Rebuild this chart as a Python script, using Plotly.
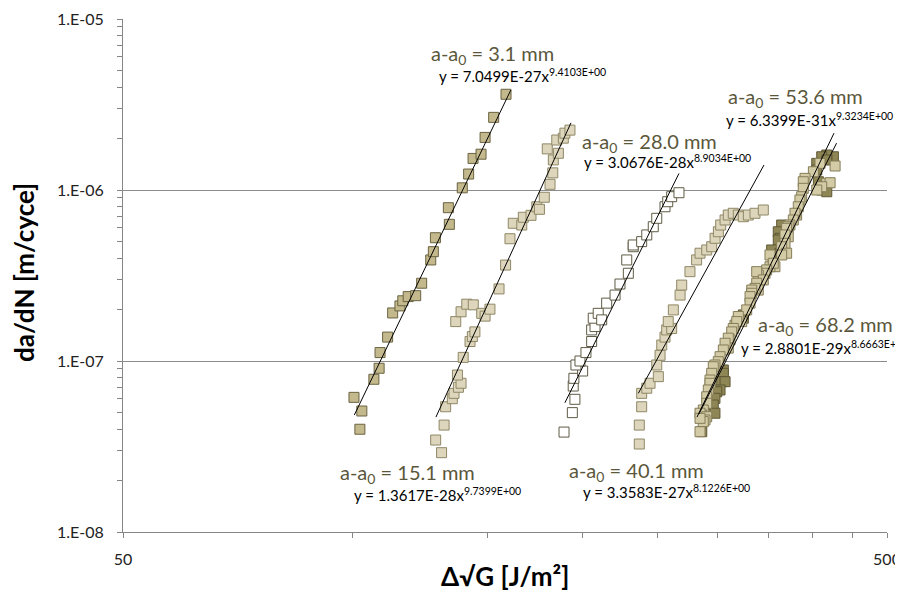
import plotly.graph_objects as go

# ---------------- data ----------------
s31_x = [102.1, 102.7, 100.3, 106.5, 108.2, 108.5, 111.0, 112.7, 115.2, 116.2, 118.1, 120.8, 123.0,
         126.4, 127.4, 128.2, 133.7, 133.3, 139.0, 141.7, 143.6, 147.1, 148.9, 152.8, 158.6]
s31_y = [3.99e-8, 5.10e-8, 6.13e-8, 7.82e-8, 9.07e-8, 1.12e-7, 1.38e-7, 1.91e-7, 2.10e-7, 2.25e-7,
         2.38e-7, 2.41e-7, 2.85e-7, 3.90e-7, 4.36e-7, 5.26e-7, 6.30e-7, 7.88e-7, 1.03e-6, 1.24e-6,
         1.53e-6, 1.62e-6, 2.03e-6, 2.66e-6, 3.63e-6]

s151_x = [130.6, 128.3, 131.6, 132.2, 134.9, 135.6, 137.4, 138.5, 137.0, 139.4, 142.3, 143.3, 144.4,
          136.3, 138.5, 140.9, 143.7, 147.4, 148.9, 151.1, 155.3, 158.4, 160.5, 162.1, 166.3, 167.1,
          171.0, 174.0, 175.4, 178.0, 181.1, 182.6, 182.9, 185.7, 179.6, 184.8, 188.5, 189.4, 192.3]
s151_y = [2.91e-8, 3.45e-8, 4.22e-8, 5.40e-8, 6.02e-8, 6.47e-8, 7.02e-8, 7.41e-8, 8.28e-8, 1.05e-7,
          1.30e-7, 1.39e-7, 1.48e-7, 1.70e-7, 1.94e-7, 2.15e-7, 2.13e-7, 1.90e-7, 1.83e-7, 2.01e-7,
          2.64e-7, 3.64e-7, 5.19e-7, 6.39e-7, 6.24e-7, 6.93e-7, 7.11e-7, 7.98e-7, 7.71e-7, 9.07e-7,
          1.08e-6, 1.26e-6, 1.50e-6, 1.64e-6, 1.74e-6, 1.96e-6, 2.01e-6, 2.15e-6, 2.24e-6]

s280_x = [188.9, 193.7, 195.2, 194.2, 194.6, 199.8, 195.8, 198.2, 201.8, 205.3, 205.3, 207.4, 206.3,
          209.4, 211.6, 214.8, 220.3, 223.6, 229.3, 228.2, 232.7, 232.7, 238.7, 242.4, 247.2, 249.8,
          256.1, 258.2, 261.3, 267.1]
s280_y = [3.84e-8, 4.99e-8, 5.97e-8, 7.14e-8, 7.92e-8, 8.74e-8, 9.48e-8, 1.00e-7, 1.12e-7, 1.30e-7,
          1.52e-7, 1.59e-7, 1.78e-7, 1.90e-7, 1.74e-7, 2.18e-7, 2.43e-7, 2.82e-7, 3.26e-7, 3.90e-7,
          4.66e-7, 4.77e-7, 4.99e-7, 5.46e-7, 6.10e-7, 6.83e-7, 7.98e-7, 8.54e-7, 9.14e-7, 9.64e-7]

s401_x = [237.0, 237.0, 238.7, 238.7, 242.4, 244.8, 251.0, 249.8, 252.3, 253.6, 256.1, 257.4, 261.3,
          258.6, 262.6, 268.0, 269.3, 276.1, 281.7, 284.6, 290.4, 294.8, 297.8, 300.8, 302.9, 306.9,
          309.9, 314.6, 319.4, 324.3, 329.2, 335.9, 344.4]
s401_y = [3.27e-8, 4.22e-8, 5.40e-8, 6.47e-8, 6.93e-8, 7.41e-8, 8.10e-8, 9.48e-8, 1.08e-7, 1.24e-7,
          1.38e-7, 1.52e-7, 1.55e-7, 1.70e-7, 1.99e-7, 2.43e-7, 2.78e-7, 3.33e-7, 3.90e-7, 4.27e-7,
          4.46e-7, 4.66e-7, 5.22e-7, 5.70e-7, 6.24e-7, 6.68e-7, 7.14e-7, 7.31e-7, 7.14e-7, 6.98e-7,
          7.14e-7, 7.31e-7, 7.64e-7]

s536_x = [425.4, 417.0, 410.7, 404.6, 404.6, 417.0, 406.6, 410.7, 417.0, 364.0, 360.3, 362.2, 360.3,
          353.2, 354.9, 362.2, 324.3, 319.4, 324.3, 305.3, 305.3, 303.8, 306.9, 302.3, 299.3, 297.7,
          296.2, 297.7, 286.1]
s536_y = [1.565e-6, 1.602e-6, 1.565e-6, 1.432e-6, 1.309e-6, 1.498e-6, 1.118e-6, 1.000e-6, 9.77e-7,
          6.24e-7, 5.70e-7, 5.22e-7, 5.10e-7, 4.46e-7, 3.99e-7, 4.27e-7, 1.86e-7, 1.74e-7, 1.78e-7,
          8.86e-8, 8.47e-8, 7.57e-8, 7.57e-8, 6.77e-8, 6.61e-8, 6.05e-8, 5.53e-8, 4.95e-8, 3.86e-8]

s682_x = [427.6, 408.6, 400.5, 390.5, 388.5, 388.5, 417.0, 421.2, 410.7, 404.6, 386.6, 384.6, 382.7,
          380.8, 378.9, 377.0, 373.2, 371.3, 369.5, 371.3, 367.7, 367.7, 364.0, 369.5, 364.0, 356.7,
          351.4, 351.4, 354.9, 347.9, 346.2, 339.2, 337.6, 344.4, 337.6, 339.2, 335.9, 332.6, 332.6,
          330.9, 330.9, 327.6, 322.7, 319.4, 316.2, 317.9, 314.6, 313.1, 311.5, 309.9, 309.9, 306.9,
          305.3, 302.3, 300.7, 297.7, 296.2, 294.8, 293.3, 293.3, 291.8, 290.4, 290.4, 287.4, 286.1,
          284.6, 290.4, 288.9, 287.4, 284.6, 284.6]
s682_y = [1.382e-6, 1.432e-6, 1.279e-6, 1.170e-6, 1.118e-6, 1.023e-6, 1.094e-6, 1.103e-6, 1.045e-6,
          1.000e-6, 9.14e-7, 8.74e-7, 7.98e-7, 7.14e-7, 7.31e-7, 6.68e-7, 6.24e-7, 6.10e-7, 5.97e-7,
          5.33e-7, 5.46e-7, 4.88e-7, 4.66e-7, 4.27e-7, 4.17e-7, 3.56e-7, 3.56e-7, 4.17e-7, 3.73e-7,
          3.41e-7, 3.26e-7, 3.18e-7, 3.33e-7, 2.98e-7, 2.85e-7, 2.60e-7, 2.66e-7, 2.60e-7, 2.49e-7,
          2.38e-7, 2.18e-7, 1.99e-7, 1.70e-7, 1.82e-7, 1.62e-7, 1.70e-7, 1.55e-7, 1.48e-7, 1.33e-7,
          1.36e-7, 1.19e-7, 1.27e-7, 1.16e-7, 1.06e-7, 9.91e-8, 9.48e-8, 9.26e-8, 8.47e-8, 7.74e-8,
          7.41e-8, 6.77e-8, 6.18e-8, 5.66e-8, 5.17e-8, 4.83e-8, 4.95e-8, 4.72e-8, 4.52e-8, 4.42e-8,
          4.62e-8, 3.86e-8]

# trend line end points (as drawn)
t31_x, t31_y = [100.4, 160.9], [4.83e-8, 3.84e-6]
t151_x, t151_y = [128.4, 192.9], [4.70e-8, 2.47e-6]
t280_x, t280_y = [189.4, 267.1], [5.70e-8, 1.25e-6]
t401_x, t401_y = [236.3, 345.1], [6.47e-8, 1.40e-6]
t536_x, t536_y = [282.0, 426.2], [4.70e-8, 2.15e-6]
t682_x, t682_y = [283.7, 429.5], [4.90e-8, 1.88e-6]

series_names = ["a-a0 = 3.1 mm", "a-a0 = 15.1 mm", "a-a0 = 28.0 mm",
                "a-a0 = 40.1 mm", "a-a0 = 53.6 mm", "a-a0 = 68.2 mm"]
label_texts = ["a-a<sub>0</sub> = 3.1 mm", "a-a<sub>0</sub> = 15.1 mm", "a-a<sub>0</sub> = 28.0 mm",
               "a-a<sub>0</sub> = 40.1 mm", "a-a<sub>0</sub> = 53.6 mm", "a-a<sub>0</sub> = 68.2 mm"]
eq_texts = ["y = 7.0499E-27x<sup>9.4103E+00</sup>", "y = 1.3617E-28x<sup>9.7399E+00</sup>",
            "y = 3.0676E-28x<sup>8.9034E+00</sup>", "y = 3.3583E-27x<sup>8.1226E+00</sup>",
            "y = 6.3399E-31x<sup>9.3234E+00</sup>", "y = 2.8801E-29x<sup>8.6663E+00</sup>"]

y_major = [1e-8, 1e-7, 1e-6, 1e-5]
y_major_text = ["1.E-08", "1.E-07", "1.E-06", "1.E-05"]
x_major = [50, 500]
x_major_text = ["50", "500"]

# ---------------- style ----------------
fills = ["#c4b98d", "#ddd6bc", "#ffffff", "#ddd6bc", "#8f8656", "#d3caa6"]
edges = ["#6a6340", "#8f8765", "#5f5b45", "#8f8765", "#5e5834", "#857d58"]
FONT = "Lato, 'Open Sans', sans-serif"

OFF = 8                      # page offset of the figure (body margin)
PL, PT, PR, PB = 123, 19, 887, 532   # plot area on the page
W, H = 903 - OFF, 592 - OFF
L, T = PL - OFF, PT - OFF
R, B = W - (PR - OFF), H - (PB - OFF)


def px(xp):
    return (xp - PL) / (PR - PL)


def py(yp):
    return (PB - yp) / (PB - PT)


fig = go.Figure()
data_sets = [(s31_x, s31_y), (s151_x, s151_y), (s280_x, s280_y),
             (s401_x, s401_y), (s536_x, s536_y), (s682_x, s682_y)]
for i, (xs, ys) in enumerate(data_sets):
    fig.add_trace(go.Scatter(
        x=xs, y=ys, mode="markers", name=series_names[i], showlegend=False,
        marker=dict(symbol="square", size=10, color=fills[i],
                    line=dict(color=edges[i], width=1)),
        hoverinfo="x+y"))

trend_sets = [(t31_x, t31_y), (t151_x, t151_y), (t280_x, t280_y),
              (t401_x, t401_y), (t536_x, t536_y), (t682_x, t682_y)]
for xs, ys in trend_sets:
    fig.add_trace(go.Scatter(x=xs, y=ys, mode="lines", showlegend=False,
                             line=dict(color="#000000", width=1), hoverinfo="skip"))

label_pos = [((492, 54), "center"), ((338, 473), "left"), ((580, 142), "left"),
             ((567, 471), "left"), ((726, 97), "left"), ((756, 325), "left")]
eq_pos = [(437, 75), (352, 494), (582, 161), (581, 491), (724, 119), (739, 347)]

ann = []
for i in range(6):
    (lx, ly), anc = label_pos[i]
    ann.append(dict(x=px(lx), y=py(ly), xref="paper", yref="paper", xanchor=anc, yanchor="middle",
                    text=label_texts[i], showarrow=False,
                    font=dict(family=FONT, size=20, color="#5b573b")))
    ex, ey = eq_pos[i]
    ann.append(dict(x=px(ex), y=py(ey), xref="paper", yref="paper", xanchor="left", yanchor="middle",
                    text=eq_texts[i], showarrow=False,
                    font=dict(family=FONT, size=15, color="#000000")))

ann.append(dict(x=px(24), y=py(272), xref="paper", yref="paper", xanchor="center", yanchor="middle",
                text="<b>da/dN [m/cyce]</b>", textangle=-90, showarrow=False,
                font=dict(family=FONT, size=26, color="#000000")))
ann.append(dict(x=px(505), y=py(576), xref="paper", yref="paper", xanchor="center", yanchor="middle",
                text="<b>Δ√G [J/m²]</b>", showarrow=False,
                font=dict(family=FONT, size=26, color="#000000")))

y_minor = [m * 10.0 ** e for e in (-8, -7, -6) for m in range(2, 10)]
x_minor = [100, 150, 200, 250, 300, 350, 400, 450]

fig.update_layout(
    width=W, height=H,
    margin=dict(l=L, r=R, t=T, b=B, autoexpand=False),
    paper_bgcolor="white", plot_bgcolor="white",
    font=dict(family=FONT, size=16, color="#222222"),
    annotations=ann,
    xaxis=dict(type="log", range=[1.69897, 2.69897], tickmode="array", tickvals=x_major,
               ticktext=x_major_text, ticks="outside", ticklen=5, tickcolor="#868686",
               showline=True, linecolor="#868686", linewidth=1, showgrid=False, zeroline=False,
               ticklabelstandoff=8, tickfont=dict(size=16), automargin=False,
               ticklabeloverflow="allow",
               minor=dict(tickmode="array", tickvals=x_minor, ticks="outside", ticklen=5,
                          tickcolor="#868686", showgrid=False)),
    yaxis=dict(type="log", range=[-8.0, -4.9999], tickmode="array", tickvals=y_major,
               ticktext=y_major_text, ticks="outside", ticklen=5, tickcolor="#868686",
               showline=True, linecolor="#868686", linewidth=1, showgrid=True,
               gridcolor="#8c8c8c", gridwidth=1, zeroline=False,
               ticklabelstandoff=10, tickfont=dict(size=16), automargin=False,
               ticklabeloverflow="allow",
               minor=dict(tickmode="array", tickvals=y_minor, ticks="outside", ticklen=5,
                          tickcolor="#868686", showgrid=False)),
)

fig.write_html("out.html")
